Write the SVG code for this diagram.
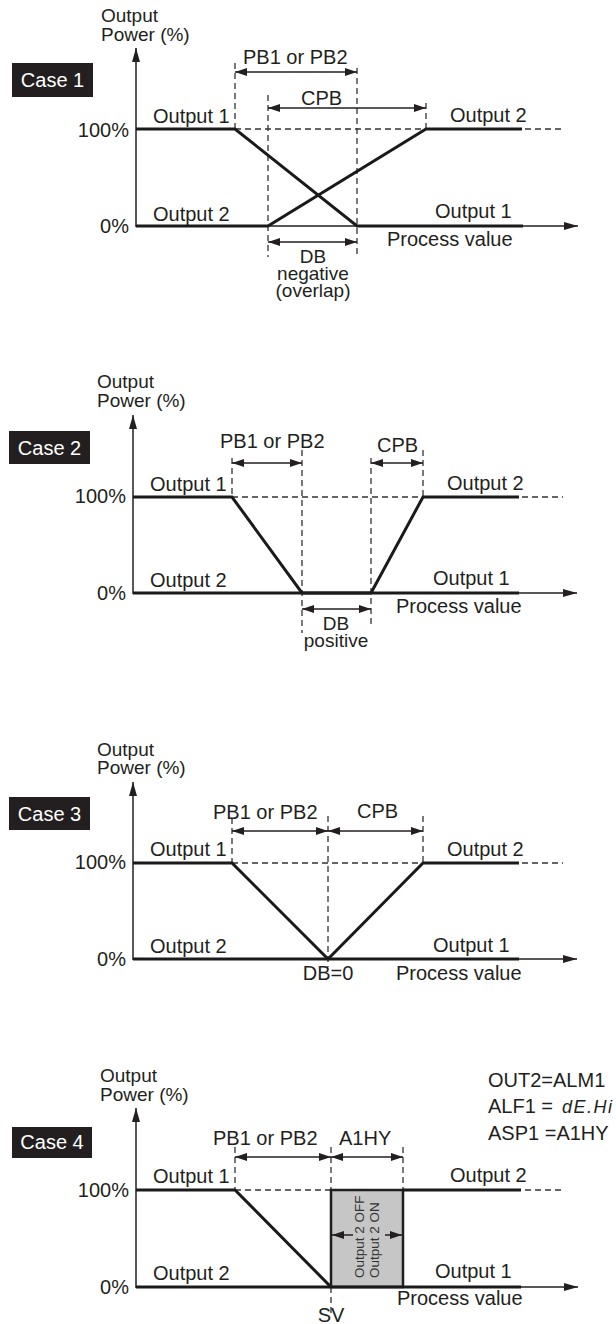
<svg xmlns="http://www.w3.org/2000/svg" width="616" height="1324" viewBox="0 0 616 1324">
<style>
text{font-family:"Liberation Sans",Arial,sans-serif;font-size:20px;fill:#231f20}
.mid{text-anchor:middle}
.end{text-anchor:end}
.st{font-size:19px}
.case{fill:#fff}
.box{fill:#231f20}
.thick{fill:none;stroke:#1a1a1a;stroke-width:3;stroke-linejoin:miter}
.axis{fill:none;stroke:#231f20;stroke-width:1.5}
.dash{fill:none;stroke:#333;stroke-width:1.3;stroke-dasharray:6 4}
.dim{fill:none;stroke:#231f20;stroke-width:1.5}
.small{font-size:13.5px;fill:#333}
.seg{font-style:italic;font-size:18px;letter-spacing:1.5px}
</style>
<defs>
<marker id="ah" viewBox="0 0 12 8" refX="12" refY="4" markerWidth="12" markerHeight="8" markerUnits="userSpaceOnUse" orient="auto-start-reverse">
<path d="M0,0 L12,4 L0,8 Z" fill="#231f20"/>
</marker>
<marker id="ax" viewBox="0 0 14 8" refX="14" refY="4" markerWidth="14" markerHeight="8" markerUnits="userSpaceOnUse" orient="auto">
<path d="M0,0 L14,4 L0,8 Z" fill="#231f20"/>
</marker>
</defs>

<!-- Case 1 -->
<g id="case1">
<text class="st" x="101" y="22">Output</text>
<text class="st" x="101" y="41">Power (%)</text>
<rect class="box" x="12" y="63" width="81" height="34"/>
<text class="case mid" x="52.5" y="87">Case 1</text>
<text class="end" x="129" y="137">100%</text>
<text class="end" x="129" y="233">0%</text>
<g id="case1-guides">
<line class="dash" x1="235" y1="129" x2="565" y2="129"/>
<line class="dash" x1="235" y1="63" x2="235" y2="129"/>
<line class="dash" x1="268" y1="95" x2="268" y2="257"/>
<line class="dash" x1="357" y1="68" x2="357" y2="257"/>
<line class="dash" x1="426" y1="103" x2="426" y2="129"/>
</g>
<g id="case1-axes">
<line class="axis" x1="136" y1="227" x2="136" y2="48" marker-end="url(#ax)"/>
<line class="axis" x1="136" y1="226" x2="578" y2="226" marker-end="url(#ax)"/>
</g>
<g id="case1-curves">
<polyline class="thick" points="136,129 235,129 357,226 523,226"/>
<polyline class="thick" points="136,226 268,226 426,129 522,129"/>
</g>
<g id="case1-dims">
<line class="dim" x1="235" y1="72" x2="357" y2="72" marker-start="url(#ah)" marker-end="url(#ah)"/>
<line class="dim" x1="268" y1="108" x2="426" y2="108" marker-start="url(#ah)" marker-end="url(#ah)"/>
<line class="dim" x1="268" y1="242" x2="357" y2="242" marker-start="url(#ah)" marker-end="url(#ah)"/>
</g>
<text x="153" y="123">Output 1</text>
<text x="153" y="221">Output 2</text>
<text x="243" y="64">PB1 or PB2</text>
<text x="301" y="105">CPB</text>
<text x="450" y="122">Output 2</text>
<text x="435" y="218">Output 1</text>
<text x="387" y="246">Process value</text>
<text class="mid st" x="313" y="263">DB</text>
<text class="mid st" x="313" y="280">negative</text>
<text class="mid st" x="313" y="297">(overlap)</text>
</g>

<!-- Case 2 -->
<g id="case2">
<text class="st" x="97" y="388">Output</text>
<text class="st" x="97" y="407">Power (%)</text>
<rect class="box" x="9" y="431" width="81" height="33"/>
<text class="case mid" x="49.5" y="455">Case 2</text>
<text class="end" x="126" y="503">100%</text>
<text class="end" x="126" y="600">0%</text>
<g id="case2-guides">
<line class="dash" x1="232" y1="497" x2="563" y2="497"/>
<line class="dash" x1="232" y1="458" x2="232" y2="497"/>
<line class="dash" x1="302" y1="450" x2="302" y2="633"/>
<line class="dash" x1="371" y1="458" x2="371" y2="628"/>
<line class="dash" x1="423" y1="450" x2="423" y2="497"/>
</g>
<g id="case2-axes">
<line class="axis" x1="133" y1="594" x2="133" y2="415" marker-end="url(#ax)"/>
<line class="axis" x1="133" y1="593" x2="577" y2="593" marker-end="url(#ax)"/>
</g>
<g id="case2-curves">
<polyline class="thick" points="133,497 232,497 302,593 519,593"/>
<polyline class="thick" points="133,593 371,593 423,497 519,497"/>
</g>
<g id="case2-dims">
<line class="dim" x1="232" y1="463" x2="302" y2="463" marker-start="url(#ah)" marker-end="url(#ah)"/>
<line class="dim" x1="371" y1="463" x2="423" y2="463" marker-start="url(#ah)" marker-end="url(#ah)"/>
<line class="dim" x1="302" y1="609" x2="371" y2="609" marker-start="url(#ah)" marker-end="url(#ah)"/>
</g>
<text x="150" y="491">Output 1</text>
<text x="150" y="587">Output 2</text>
<text x="220" y="448">PB1 or PB2</text>
<text x="377" y="452">CPB</text>
<text x="447" y="490">Output 2</text>
<text x="433" y="585">Output 1</text>
<text x="396" y="613">Process value</text>
<text class="mid st" x="336" y="630">DB</text>
<text class="mid st" x="336" y="647">positive</text>
</g>

<!-- Case 3 -->
<g id="case3">
<text class="st" x="97" y="756">Output</text>
<text class="st" x="97" y="774">Power (%)</text>
<rect class="box" x="9" y="797" width="81" height="33"/>
<text class="case mid" x="49.5" y="821">Case 3</text>
<text class="end" x="126" y="869">100%</text>
<text class="end" x="126" y="966">0%</text>
<g id="case3-guides">
<line class="dash" x1="232" y1="863" x2="563" y2="863"/>
<line class="dash" x1="232" y1="818" x2="232" y2="863"/>
<line class="dash" x1="328" y1="816" x2="328" y2="967"/>
<line class="dash" x1="423" y1="816" x2="423" y2="863"/>
</g>
<g id="case3-axes">
<line class="axis" x1="133" y1="960" x2="133" y2="782" marker-end="url(#ax)"/>
<line class="axis" x1="133" y1="959" x2="577" y2="959" marker-end="url(#ax)"/>
</g>
<g id="case3-curves">
<polyline class="thick" points="133,863 232,863 328,959 519,959"/>
<polyline class="thick" points="133,959 328,959 423,863 519,863"/>
</g>
<g id="case3-dims">
<line class="dim" x1="232" y1="831" x2="328" y2="831" marker-start="url(#ah)" marker-end="url(#ah)"/>
<line class="dim" x1="328" y1="831" x2="423" y2="831" marker-start="url(#ah)" marker-end="url(#ah)"/>
</g>
<text x="150" y="856">Output 1</text>
<text x="150" y="953">Output 2</text>
<text x="213" y="819">PB1 or PB2</text>
<text x="357" y="818">CPB</text>
<text x="447" y="856">Output 2</text>
<text x="433" y="952">Output 1</text>
<text x="396" y="980">Process value</text>
<text class="mid" x="328" y="980">DB=0</text>
</g>

<!-- Case 4 -->
<g id="case4">
<text class="st" x="100" y="1082">Output</text>
<text class="st" x="100" y="1101">Power (%)</text>
<rect class="box" x="12" y="1127" width="80" height="31"/>
<text class="case mid" x="52" y="1149">Case 4</text>
<text class="end" x="129" y="1197">100%</text>
<text class="end" x="129" y="1294">0%</text>
<text x="488" y="1087">OUT2=ALM1</text>
<text x="488" y="1113">ALF1 =</text>
<text class="seg" x="562" y="1113">dE.Hi</text>
<text x="488" y="1140">ASP1 =A1HY</text>
<g id="case4-guides">
<line class="dash" x1="235" y1="1190" x2="565" y2="1190"/>
<line class="dash" x1="235" y1="1147" x2="235" y2="1190"/>
<line class="dash" x1="331" y1="1147" x2="331" y2="1313"/>
<line class="dash" x1="403" y1="1147" x2="403" y2="1190"/>
</g>
<g id="case4-box">
<rect x="331" y="1190" width="72" height="97" fill="#c6c6c6" stroke="#231f20" stroke-width="2.5"/>
<text class="small" transform="translate(364,1278) rotate(-90)">Output 2 OFF</text>
<text class="small" transform="translate(379,1278) rotate(-90)">Output 2 ON</text>
<line class="dim" x1="353" y1="1235" x2="332" y2="1235" marker-end="url(#ah)"/>
<line class="dim" x1="385" y1="1235" x2="402" y2="1235" marker-end="url(#ah)"/>
</g>
<g id="case4-axes">
<line class="axis" x1="136" y1="1288" x2="136" y2="1108" marker-end="url(#ax)"/>
<line class="axis" x1="136" y1="1287" x2="578" y2="1287" marker-end="url(#ax)"/>
</g>
<g id="case4-curves">
<polyline class="thick" points="136,1190 235,1190 331,1287 521,1287"/>
<polyline class="thick" points="136,1287 331,1287"/>
<polyline class="thick" points="403,1190 521,1190"/>
</g>
<g id="case4-dims">
<line class="dim" x1="235" y1="1157" x2="331" y2="1157" marker-start="url(#ah)" marker-end="url(#ah)"/>
<line class="dim" x1="331" y1="1157" x2="403" y2="1157" marker-start="url(#ah)" marker-end="url(#ah)"/>
</g>
<text x="153" y="1183">Output 1</text>
<text x="153" y="1280">Output 2</text>
<text x="213" y="1145">PB1 or PB2</text>
<text x="339" y="1145">A1HY</text>
<text x="450" y="1182">Output 2</text>
<text x="435" y="1278">Output 1</text>
<text x="397" y="1305">Process value</text>
<text class="mid" x="331" y="1322">SV</text>
</g>
</svg>
